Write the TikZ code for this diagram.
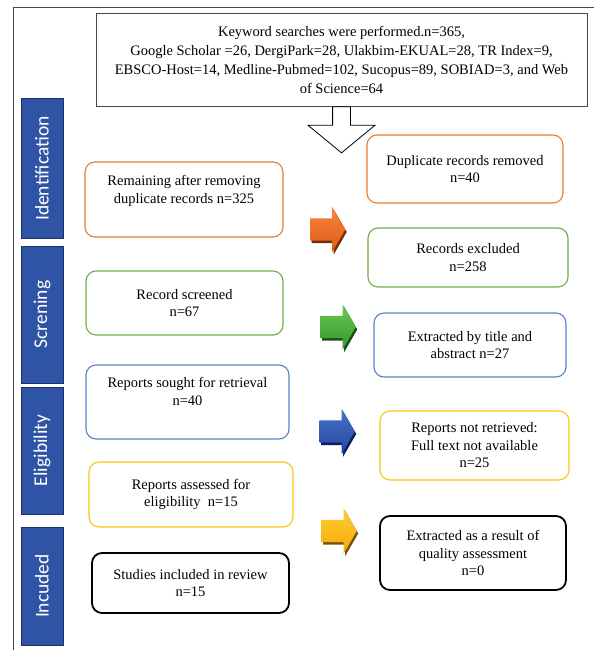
\documentclass[tikz,border=0pt]{standalone}
\usepackage{fontspec}
\setmainfont{Liberation Serif}
\newfontfamily\bandfont{Carlito}
\usepackage{tikz}
\usetikzlibrary{
  shapes.arrows,
  shadows
}
\definecolor{FrameGray}{RGB}{70,70,70}
\definecolor{BandBlue}{RGB}{47,84,165}
\definecolor{BandEdge}{RGB}{28,48,105}
\definecolor{IdOrange}{RGB}{237,125,49}
\definecolor{ScrGreen}{RGB}{112,173,71}
\definecolor{EliBlue}{RGB}{88,130,200}
\definecolor{EliYellow}{RGB}{255,196,20}
\definecolor{OrangeTop}{RGB}{250,135,60}
\definecolor{OrangeBot}{RGB}{222,88,22}
\definecolor{OrangeShade}{RGB}{120,45,10}
\definecolor{GreenTop}{RGB}{110,200,80}
\definecolor{GreenBot}{RGB}{50,150,45}
\definecolor{GreenShade}{RGB}{25,80,25}
\definecolor{BlueTop}{RGB}{70,115,200}
\definecolor{BlueBot}{RGB}{35,70,160}
\definecolor{BlueShade}{RGB}{15,30,90}
\definecolor{YellowTop}{RGB}{255,205,50}
\definecolor{YellowBot}{RGB}{245,170,10}
\definecolor{YellowShade}{RGB}{120,85,10}
\tikzset{
  searchbox/.style={draw=FrameGray,line width=0.9pt,fill=white,align=center,font=\fontsize{14.5}{19}\selectfont,minimum width=491pt,minimum height=93pt,inner sep=2pt},
  stagebox/.style={draw=BandEdge,line width=1pt,fill=BandBlue,text=white,rotate=90,minimum height=42pt,inner sep=0pt,font=\bandfont\fontsize{19.5}{20}\selectfont},
  flowbox/.style={rounded corners=10pt,line width=1.1pt,fill=white,align=center,font=\fontsize{14.5}{17.5}\selectfont,inner sep=2pt},
  endbox/.style={flowbox,draw=black,line width=1.8pt},
  downarrow/.style={single arrow,draw=black,line width=0.8pt,fill=white,rotate=-90,anchor=tail,inner xsep=0pt,inner ysep=8.5pt,minimum height=46pt,single arrow head extend=24.5pt,single arrow tip angle=101},
  blockarrow/.style={single arrow,inner xsep=0pt,inner ysep=11pt,minimum height=35pt,single arrow head extend=11.5pt,single arrow tip angle=120}
}

\begin{document}
\begin{tikzpicture}[x=1pt,y=-1pt]
\useasboundingbox (0,0) rectangle (594,650);
\draw[FrameGray,line width=0.9pt] (13,650) -- (13,7) -- (594,7);

\node[searchbox] (search) at (341.5,59.5) {Keyword searches were performed.n=365,\\
  Google Scholar =26, DergiPark=28, Ulakbim-EKUAL=28, TR Index=9,\\
  EBSCO-Host=14, Medline-Pubmed=102, Sucopus=89, SOBIAD=3, and Web\\
  of Science=64};
\node[downarrow] (down) at (search.south) {};

% stages
\node[stagebox,minimum width=139pt] (ident) at (42,168.5) {Identification};
\node[stagebox,minimum width=137pt] (scren) at (42,314.5) {Screning};
\node[stagebox,minimum width=127pt] (elig) at (42,450.5) {Eligibility};
\node[stagebox,minimum width=118pt] (incl) at (42,586) {Incuded};

% left column
\node[flowbox,draw=IdOrange,minimum width=198pt,minimum height=75pt] (remain) at (184,199.5) {Remaining after removing\\ duplicate records n=325\\[3pt]};
\node[flowbox,draw=ScrGreen,minimum width=197pt,minimum height=64pt] (screen) at (184.5,303) {Record screened\\ n=67};
\node[flowbox,draw=EliBlue,minimum width=203pt,minimum height=74pt] (sought) at (187.5,402) {Reports sought for retrieval\\ n=40\\[4pt]};
\node[flowbox,draw=EliYellow,minimum width=204pt,minimum height=65pt] (assess) at (191,494.5) {Reports assessed for\\ eligibility~~n=15};
\node[endbox,minimum width=197pt,minimum height=60pt] (study) at (190.5,583) {Studies included in review\\ n=15};

% right column
\node[flowbox,draw=IdOrange,minimum width=196pt,minimum height=68pt] (dupl) at (465,169) {Duplicate records removed\\ n=40};
\node[flowbox,draw=ScrGreen,minimum width=200pt,minimum height=59pt] (excl) at (468,257.5) {Records excluded\\ n=258};
\node[flowbox,draw=EliBlue,minimum width=192pt,minimum height=64pt] (abstr) at (470,345) {Extracted by title and\\ abstract n=27};
\node[flowbox,draw=EliYellow,minimum width=189pt,minimum height=69pt] (noret) at (474.5,445.5) {Reports not retrieved:\\ Full text not available\\ n=25};
\node[endbox,minimum width=186pt,minimum height=74pt] (quality) at (473,553) {Extracted as a result of\\ quality assessment\\ n=0};

% block arrows
\node[blockarrow,top color=OrangeTop,bottom color=OrangeBot,drop shadow={fill=OrangeShade,opacity=1,shadow xshift=1.5pt,shadow yshift=-2.5pt}] (arrid) at (324.5,229.5) {};
\node[blockarrow,top color=GreenTop,bottom color=GreenBot,drop shadow={fill=GreenShade,opacity=1,shadow xshift=1.5pt,shadow yshift=-2.5pt}] (arrscr) at (335,327) {};
\node[blockarrow,top color=BlueTop,bottom color=BlueBot,drop shadow={fill=BlueShade,opacity=1,shadow xshift=1.5pt,shadow yshift=-2.5pt}] (arrelig) at (334,431.5) {};
\node[blockarrow,top color=YellowTop,bottom color=YellowBot,drop shadow={fill=YellowShade,opacity=1,shadow xshift=1.5pt,shadow yshift=-2.5pt}] (arrincl) at (336,531) {};
\end{tikzpicture}
\end{document}
